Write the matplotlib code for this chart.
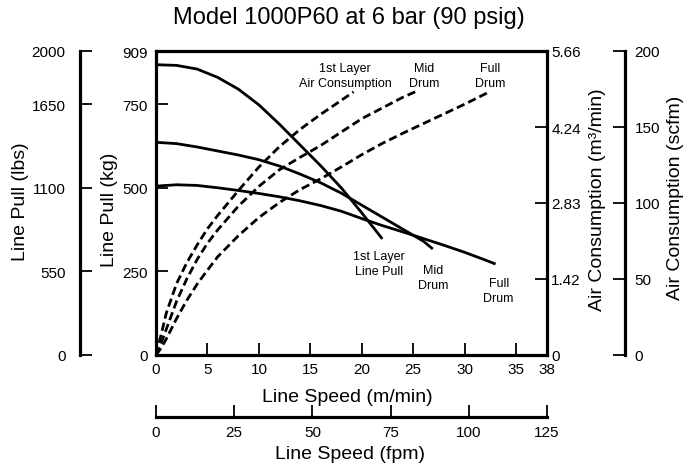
import matplotlib
matplotlib.use("Agg")
import matplotlib.pyplot as plt

plt.rcParams["font.family"] = ["Liberation Sans", "DejaVu Sans"]

TITLE = "Model 1000P60 at 6 bar (90 psig)"

# line pull curves: speed (m/min) vs pull (kg)
pull_1st_speed = [0, 2, 4, 6, 8, 10, 12, 14, 16, 18, 20, 22]
pull_1st_kg = [868, 866, 855, 830, 795, 748, 690, 628, 566, 500, 425, 347]

pull_mid_speed = [0, 2, 4, 6, 8, 10, 12, 14, 16, 18, 20, 22, 24, 26, 26.9]
pull_mid_kg = [636, 632, 622, 610, 598, 584, 565, 541, 515, 484, 448, 412, 376, 340, 317]

pull_full_speed = [0, 2, 4, 6, 8, 10, 12, 14, 16, 18, 20, 22, 24, 26, 28, 30, 32, 33]
pull_full_kg = [505, 509, 507, 500, 492, 483, 473, 461, 447, 430, 408, 387, 368, 348, 328, 307, 284, 272]

# air consumption curves: speed (m/min) vs m3/min
air_1st_speed = [0, 0.5, 1, 2, 3, 4, 5, 6, 8, 10, 12, 14, 16, 18, 19.2]
air_1st_m3 = [0, 0.38, 0.78, 1.33, 1.72, 2.05, 2.35, 2.6, 3.06, 3.5, 3.88, 4.2, 4.48, 4.74, 4.9]

air_mid_speed = [0, 0.5, 1, 2, 3, 4, 5, 6, 8, 10, 12, 14, 16, 18, 20, 22, 24, 25.2]
air_mid_m3 = [0, 0.22, 0.48, 1.0, 1.42, 1.78, 2.08, 2.33, 2.77, 3.14, 3.45, 3.68, 3.9, 4.15, 4.4, 4.6, 4.8, 4.9]

air_full_speed = [0, 0.5, 1, 2, 3, 4, 5, 6, 8, 10, 12, 14, 16, 18, 20, 22, 24, 26, 28, 30, 32.3]
air_full_m3 = [0, 0.13, 0.3, 0.68, 1.02, 1.32, 1.58, 1.83, 2.22, 2.56, 2.84, 3.08, 3.28, 3.5, 3.73,
               3.94, 4.13, 4.31, 4.49, 4.67, 4.89]

speed_ticks = [0, 5, 10, 15, 20, 25, 30, 35, 38]
fpm_ticks = [0, 25, 50, 75, 100, 125]
kg_ticks = [0, 250, 500, 750, 909]
lbs_ticks = [0, 550, 1100, 1650, 2000]
m3_ticks = [0, 1.42, 2.83, 4.24, 5.66]
scfm_ticks = [0, 50, 100, 150, 200]

SPINE_LW = 2.3
TICK_KW = dict(direction="in", length=8.5, width=1.3, labelsize=11)


def px(x, y):
    # pixel position (from top-left) -> figure fraction
    return x / 697, 1 - y / 464


fig = plt.figure(figsize=(6.97, 4.64), dpi=100)
ax = fig.add_axes([156 / 697, 108 / 464, 391 / 697, 304 / 464])

ax_air = ax.twinx()
ax_scfm = ax.twinx()
ax_lbs = ax.twinx()
ax_fpm = ax.twiny()

for a in (ax, ax_air, ax_scfm, ax_lbs, ax_fpm):
    for s in a.spines.values():
        s.set_linewidth(SPINE_LW)
        s.set_visible(False)

for s in ax.spines.values():
    s.set_visible(True)

# main axes: m/min vs kg
ax.set_xlim(0, 38)
ax.set_ylim(0, 909)
ax.set_xticks(speed_ticks)
ax.set_yticks(kg_ticks)
ax.tick_params(axis="both", **TICK_KW)
ax.tick_params(axis="y", pad=6)
ax.tick_params(axis="x", pad=5)

# air consumption m3/min on main right spine
ax_air.set_ylim(0, 5.66)
ax_air.set_yticks(m3_ticks)
ax_air.set_yticklabels(["0", "1.42", "2.83", "4.24", "5.66"])
ax_air.tick_params(axis="y", pad=3, **TICK_KW)

# scfm on an offset right spine
ax_scfm.set_ylim(0, 200)
ax_scfm.set_yticks(scfm_ticks)
ax_scfm.spines["right"].set_visible(True)
ax_scfm.spines["right"].set_position(("outward", 56))
ax_scfm.tick_params(axis="y", pad=7, **TICK_KW)

# lbs on an offset left spine
ax_lbs.set_ylim(0, 2000)
ax_lbs.set_yticks(lbs_ticks)
ax_lbs.yaxis.set_ticks_position("left")
ax_lbs.spines["left"].set_visible(True)
ax_lbs.spines["left"].set_position(("outward", 55))
ax_lbs.tick_params(axis="y", pad=10, **TICK_KW)

# fpm on an offset bottom spine
ax_fpm.set_xlim(0, 125)
ax_fpm.set_xticks(fpm_ticks)
ax_fpm.xaxis.set_ticks_position("bottom")
ax_fpm.spines["bottom"].set_visible(True)
ax_fpm.spines["bottom"].set_position(("outward", 44.6))
ax_fpm.tick_params(axis="x", pad=6, **TICK_KW)

# curves
solid = dict(color="black", lw=2.0, solid_capstyle="butt", solid_joinstyle="round")
dashed = dict(color="black", lw=2.0, linestyle=(0, (3.0, 1.5)))
ax.plot(pull_1st_speed, pull_1st_kg, **solid)
ax.plot(pull_mid_speed, pull_mid_kg, **solid)
ax.plot(pull_full_speed, pull_full_kg, **solid)
ax_air.plot(air_1st_speed, air_1st_m3, **dashed)
ax_air.plot(air_mid_speed, air_mid_m3, **dashed)
ax_air.plot(air_full_speed, air_full_m3, **dashed)

# curve labels
note = dict(ha="center", va="center", fontsize=9, linespacing=1.35)
ax.text(18.4, 836, "1st Layer\nAir Consumption", **note)
ax.text(26.1, 836, "Mid\nDrum", **note)
ax.text(32.5, 836, "Full\nDrum", **note)
ax.text(21.7, 274, "1st Layer\nLine Pull", **note)
ax.text(26.9, 233, "Mid\nDrum", **note)
ax.text(33.3, 193, "Full\nDrum", **note)

# axis titles
fig.text(*px(349, 18), TITLE, ha="center", va="center", fontsize=17)
fig.text(*px(21, 202), "Line Pull (lbs)", ha="center", va="center", rotation=90, fontsize=14)
fig.text(*px(110, 210), "Line Pull (kg)", ha="center", va="center", rotation=90, fontsize=14)
fig.text(*px(597, 200), "Air Consumption (m³/min)", ha="center", va="center", rotation=90, fontsize=14)
fig.text(*px(675, 198), "Air Consumption (scfm)", ha="center", va="center", rotation=90, fontsize=14)
fig.text(*px(347, 397), "Line Speed (m/min)", ha="center", va="center", fontsize=14)
fig.text(*px(350, 455), "Line Speed (fpm)", ha="center", va="center", fontsize=14)

fig.savefig("out.png", dpi=100)
plt.close(fig)
